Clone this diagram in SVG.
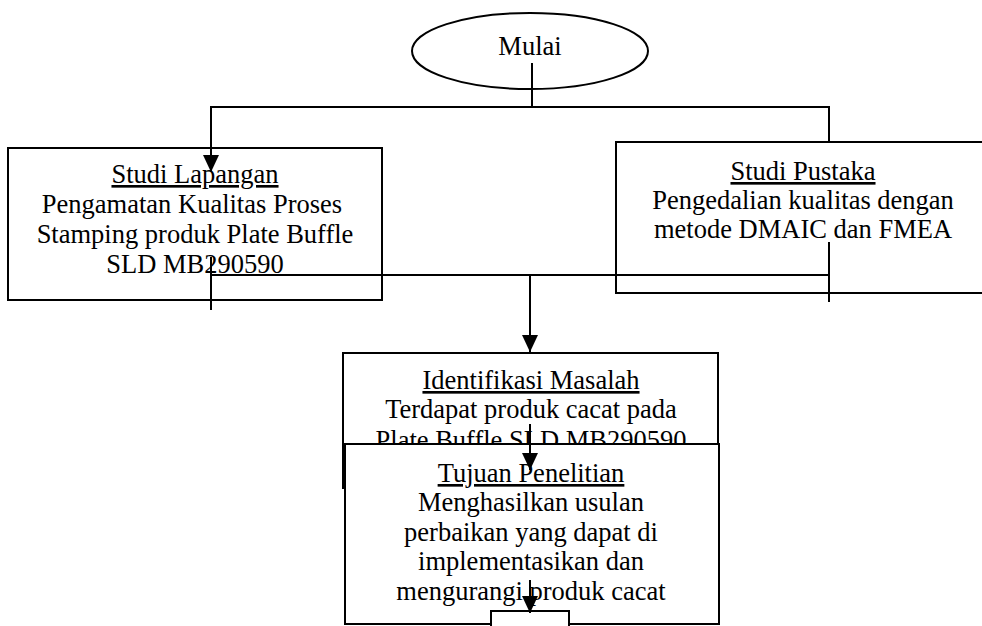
<svg xmlns="http://www.w3.org/2000/svg" width="982" height="626" viewBox="0 0 982 626">
<defs>
<marker id="arr" markerWidth="18" markerHeight="18" refX="17" refY="8" orient="auto" markerUnits="userSpaceOnUse" overflow="visible">
<path d="M0,0 L17,8 L0,16 Z" fill="#000"/>
</marker>
<style>
.box{fill:#fff;stroke:#000;stroke-width:2}
.ln{fill:none;stroke:#000;stroke-width:2}
.t{font-family:"Liberation Serif","Times New Roman",serif;font-size:26.5px;fill:#000;text-anchor:middle}
.u{text-decoration:underline}
</style>
</defs>
<rect width="982" height="626" fill="#fff"/>
<g id="mulai">
<ellipse cx="530" cy="51" rx="118" ry="38" fill="#fff" stroke="#000" stroke-width="2"/>
<text class="t" x="530" y="55">Mulai</text>
</g>
<g id="studi-lapangan">
<rect class="box" x="8" y="148" width="374" height="152"/>
<text class="t u" x="195" y="183">Studi Lapangan</text>
<text class="t" x="192" y="213">Pengamatan Kualitas Proses</text>
<text class="t" x="195" y="243">Stamping produk Plate Buffle</text>
<text class="t" x="195" y="273">SLD MB290590</text>
</g>
<g id="studi-pustaka">
<rect class="box" x="616" y="142" width="380" height="151"/>
<text class="t u" x="803" y="180">Studi Pustaka</text>
<text class="t" x="803" y="209">Pengedalian kualitas dengan</text>
<text class="t" x="803" y="238">metode DMAIC dan FMEA</text>
</g>
<g id="identifikasi-masalah">
<rect class="box" x="343" y="353" width="375" height="135"/>
<text class="t u" x="531" y="389">Identifikasi Masalah</text>
<text class="t" x="531" y="418">Terdapat produk cacat pada</text>
<text class="t" x="531" y="449">Plate Buffle SLD MB290590</text>
</g>
<g id="tujuan-penelitian">
<rect class="box" x="345" y="444" width="374" height="180"/>
<text class="t u" x="531" y="482">Tujuan Penelitian</text>
<text class="t" x="531" y="511">Menghasilkan usulan</text>
<text class="t" x="531" y="541">perbaikan yang dapat di</text>
<text class="t" x="531" y="570">implementasikan dan</text>
<text class="t" x="531" y="600">mengurangi produk cacat</text>
</g>
<g id="next-step">
<rect class="box" x="491" y="611" width="78" height="30"/>
</g>
<g id="connectors">
<line class="ln" x1="343" y1="444" x2="343" y2="488"/>
<line class="ln" x1="532" y1="63" x2="532" y2="107"/>
<line class="ln" x1="210" y1="107" x2="830" y2="107"/>
<line class="ln" x1="211" y1="106" x2="211" y2="172" marker-end="url(#arr)"/>
<line class="ln" x1="829" y1="107" x2="829" y2="142"/>
<line class="ln" x1="210" y1="275" x2="830" y2="275"/>
<line class="ln" x1="211" y1="257" x2="211" y2="310"/>
<line class="ln" x1="829" y1="242" x2="829" y2="302"/>
<line class="ln" x1="530" y1="275" x2="530" y2="352" marker-end="url(#arr)"/>
<line class="ln" x1="530" y1="424" x2="530" y2="470" marker-end="url(#arr)"/>
<line class="ln" x1="530" y1="580" x2="530" y2="613" marker-end="url(#arr)"/>
</g>
</svg>
